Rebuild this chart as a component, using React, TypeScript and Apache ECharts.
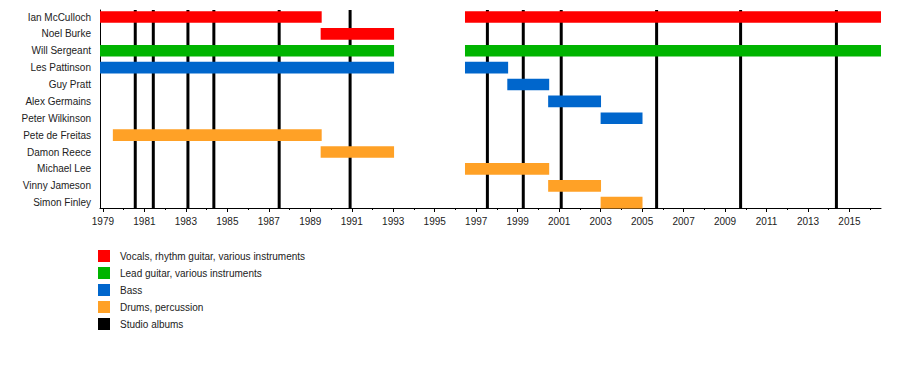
import React, { useEffect, useRef } from "react";
import * as echarts from "echarts";

const members = [
  "Ian McCulloch",
  "Noel Burke",
  "Will Sergeant",
  "Les Pattinson",
  "Guy Pratt",
  "Alex Germains",
  "Peter Wilkinson",
  "Pete de Freitas",
  "Damon Reece",
  "Michael Lee",
  "Vinny Jameson",
  "Simon Finley",
];

const roles = [
  "Vocals, rhythm guitar, various instruments",
  "Lead guitar, various instruments",
  "Bass",
  "Drums, percussion",
];
const roleColors = ["#FF0000", "#00B400", "#0066CC", "#FFA126"];
const albumName = "Studio albums";
const albumColor = "#000000";

const X_MIN = 1978.86;
const X_MAX = 2016.52;

// [memberIndex, start, end]
const vocalsPeriods = [
  [0, 1978.86, 1989.55],
  [1, 1989.5, 1993.04],
  [0, 1996.46, 2016.52],
];
const guitarPeriods = [
  [2, 1978.86, 1993.04],
  [2, 1996.46, 2016.52],
];
const bassPeriods = [
  [3, 1978.86, 1993.04],
  [3, 1996.46, 1998.54],
  [4, 1998.5, 2000.52],
  [5, 2000.47, 2003.02],
  [6, 2003.0, 2005.02],
];
const drumsPeriods = [
  [7, 1979.48, 1989.55],
  [8, 1989.5, 1993.04],
  [9, 1996.46, 2000.52],
  [10, 2000.47, 2003.02],
  [11, 2003.0, 2005.02],
];
const albumYears = [
  1980.56, 1981.43, 1983.1, 1984.35, 1987.5, 1990.92, 1997.54, 1999.27,
  2001.1, 2005.7, 2009.75, 2014.37,
];

const labelYears: number[] = [];
for (let y = 1979; y <= 2015; y += 2) labelYears.push(y);
const minorYears: number[] = [];
for (let y = 1980; y <= 2016; y += 2) minorYears.push(y);

const Y_MIN = -0.415;
const Y_MAX = 11.315;

const FONT = "'Liberation Sans', Arial, sans-serif";

function barRender(params: any, api: any) {
  const row = api.value(0);
  const p0 = api.coord([api.value(1), row]);
  const p1 = api.coord([api.value(2), row]);
  const h = Math.abs(api.size([0, 0.69])[1]);
  return {
    type: "rect",
    shape: { x: p0[0], y: p0[1] - h / 2, width: p1[0] - p0[0], height: h },
    style: { fill: api.visual("color") },
  };
}

function albumRender(params: any, api: any) {
  const x = api.value(0);
  const a = api.coord([x, Y_MIN]);
  const b = api.coord([x, Y_MAX]);
  return {
    type: "line",
    shape: { x1: a[0], y1: a[1], x2: b[0], y2: b[1] },
    style: { stroke: albumColor, lineWidth: 3 },
  };
}

export default function App() {
  const ref = useRef<HTMLDivElement>(null);
  useEffect(() => {
    if (!ref.current) return;
    const chart = echarts.init(ref.current, undefined, { renderer: "svg" });
    const periodSets = [vocalsPeriods, guitarPeriods, bassPeriods, drumsPeriods];
    const barSeries = roles.map((r, i) => ({
      name: r,
      type: "custom",
      renderItem: barRender,
      itemStyle: { color: roleColors[i] },
      encode: { x: [1, 2], y: 0 },
      data: periodSets[i],
      z: 3,
      silent: true,
    }));
    chart.setOption({
      animation: false,
      grid: { left: 100, right: 19, top: 10, bottom: 180, containLabel: false },
      legend: {
        orient: "vertical",
        left: 98,
        top: 250,
        padding: 0,
        icon: "rect",
        itemWidth: 12,
        itemHeight: 12,
        itemGap: 5,
        selectedMode: false,
        textStyle: {
          fontFamily: FONT,
          fontSize: 10,
          color: "#222",
          lineHeight: 12,
          padding: [0, 0, 0, 5],
        },
        data: [...roles, albumName],
      },
      xAxis: [
        {
          type: "value",
          min: X_MIN,
          max: X_MAX,
          axisLine: { show: true, onZero: false, lineStyle: { color: "#000", width: 1 } },
          axisTick: {
            show: true,
            customValues: labelYears,
            length: 4,
            lineStyle: { color: "#000", width: 1 },
          },
          axisLabel: {
            customValues: labelYears,
            formatter: (v: number) => String(Math.round(v)),
            fontFamily: FONT,
            fontSize: 10,
            color: "#222",
            margin: 8,
          },
          splitLine: { show: false },
        },
        {
          type: "value",
          min: X_MIN,
          max: X_MAX,
          position: "bottom",
          axisLine: { show: false, onZero: false },
          axisTick: {
            show: true,
            customValues: minorYears,
            length: 2,
            lineStyle: { color: "#000", width: 1 },
          },
          axisLabel: { show: false },
          splitLine: { show: false },
        },
      ],
      yAxis: {
        type: "value",
        inverse: true,
        min: Y_MIN,
        max: Y_MAX,
        axisLine: { show: true, onZero: false, lineStyle: { color: "#000", width: 1 } },
        axisTick: { show: false },
        splitLine: { show: false },
        axisLabel: {
          customValues: members.map((_, i) => i),
          formatter: (v: number) => members[Math.round(v)] ?? "",
          fontFamily: FONT,
          fontSize: 10,
          color: "#222",
          margin: 9,
        },
      },
      series: [
        {
          name: albumName,
          type: "custom",
          renderItem: albumRender,
          itemStyle: { color: albumColor },
          encode: { x: 0 },
          data: albumYears.map((y) => [y]),
          z: 1,
          silent: true,
        },
        ...barSeries,
      ],
    });
    return () => chart.dispose();
  }, []);
  return <div ref={ref} style={{ width: 900, height: 388, margin: -8 }} />;
}
